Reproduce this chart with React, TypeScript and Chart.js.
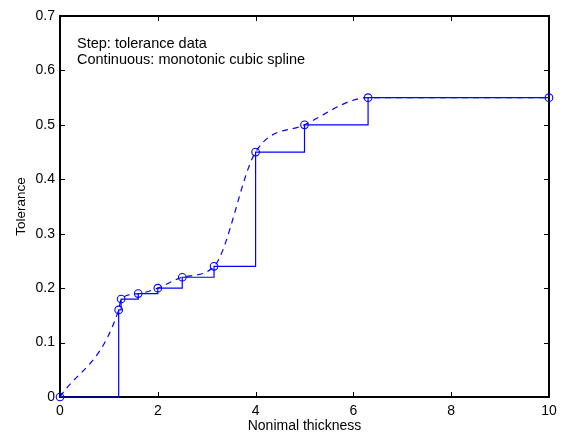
import React, { useEffect, useRef } from "react";
import { Chart, registerables } from "chart.js";

Chart.register(...registerables);

const thickness = [0, 1.2, 1.25, 1.6, 2, 2.5, 3.15, 4, 5, 6.3, 10];
const tolerance = [0, 0.16, 0.18, 0.19, 0.2, 0.22, 0.24, 0.45, 0.5, 0.55, 0.55];
const xTicks = [0, 2, 4, 6, 8, 10];
const yTicks = [0, 0.1, 0.2, 0.3, 0.4, 0.5, 0.6, 0.7];
const noteLines = ["Step: tolerance data", "Continuous: monotonic cubic spline"];
const xTitle = "Nonimal thickness";
const yTitle = "Tolerance";

const FONT = "'Liberation Sans', Arial, sans-serif";
const BLUE = "rgb(0,0,255)";

const boxPlugin = {
  id: "matlabBox",
  beforeDatasetsDraw(chart: any) {
    const { ctx, chartArea: a, scales } = chart;
    ctx.save();
    ctx.strokeStyle = "#000";
    ctx.lineWidth = 1;
    ctx.beginPath();
    const L = 5;
    for (const v of xTicks) {
      const px = Math.round(scales.x.getPixelForValue(v)) + 0.5;
      ctx.moveTo(px, a.bottom);
      ctx.lineTo(px, a.bottom - L);
      ctx.moveTo(px, a.top);
      ctx.lineTo(px, a.top + L);
    }
    for (const v of yTicks) {
      const py = Math.round(scales.y.getPixelForValue(v)) + 0.5;
      ctx.moveTo(a.left, py);
      ctx.lineTo(a.left + L, py);
      ctx.moveTo(a.right, py);
      ctx.lineTo(a.right - L, py);
    }
    ctx.stroke();
    ctx.lineWidth = 2;
    ctx.strokeRect(a.left, a.top, a.right - a.left, a.bottom - a.top);
    ctx.fillStyle = "#000";
    ctx.font = `14.5px ${FONT}`;
    ctx.textBaseline = "alphabetic";
    ctx.textAlign = "left";
    ctx.fillText(noteLines[0], a.left + 17, a.top + 32);
    ctx.fillText(noteLines[1], a.left + 17, a.top + 48);
    ctx.restore();
  },
};

export default function App() {
  const ref = useRef<HTMLCanvasElement>(null);
  useEffect(() => {
    const pts = thickness.map((x, i) => ({ x, y: tolerance[i] }));
    const chart = new Chart(ref.current!, {
      type: "line",
      data: {
        datasets: [
          {
            data: pts,
            borderColor: BLUE,
            borderWidth: 1.2,
            stepped: "before",
            pointStyle: "circle",
            pointRadius: 3.8,
            pointBorderColor: BLUE,
            pointBackgroundColor: "rgba(0,0,0,0)",
            pointBorderWidth: 1.1,
            fill: false,
            clip: false,
          } as any,
          {
            data: pts,
            borderColor: BLUE,
            borderWidth: 1.2,
            borderDash: [6, 5],
            cubicInterpolationMode: "monotone",
            pointRadius: 0,
            fill: false,
            clip: false,
          } as any,
        ],
      },
      plugins: [boxPlugin],
      options: {
        responsive: false,
        animation: false,
        events: [],
        layout: { padding: { top: 16, right: 14, left: 13, bottom: 0 } },
        plugins: { legend: { display: false }, tooltip: { enabled: false } },
        scales: {
          x: {
            type: "linear",
            min: 0,
            max: 10,
            border: { display: false },
            grid: { display: false, drawTicks: false },
            ticks: {
              stepSize: 2,
              color: "#000",
              padding: 6,
              maxRotation: 0,
              font: { family: FONT, size: 14 },
            },
            title: {
              display: true,
              text: xTitle,
              color: "#000",
              padding: { top: 0, bottom: 0 },
              font: { family: FONT, size: 14 },
            },
            afterFit(s: any) {
              s.height = 38;
            },
          },
          y: {
            type: "linear",
            min: 0,
            max: 0.7,
            border: { display: false },
            grid: { display: false, drawTicks: false },
            ticks: {
              stepSize: 0.1,
              color: "#000",
              padding: 5,
              font: { family: FONT, size: 14 },
              callback: (v: any) => String(Math.round(v * 10) / 10),
            },
            title: {
              display: true,
              text: yTitle,
              color: "#000",
              padding: { top: 0, bottom: 6 },
              font: { family: FONT, size: 13.5 },
            },
            afterFit(s: any) {
              s.width = 47;
            },
          },
        },
      } as any,
    });
    return () => chart.destroy();
  }, []);
  return (
    <div style={{ position: "fixed", left: 0, top: 0, width: 563, height: 435, background: "#fff" }}>
      <canvas ref={ref} width={563} height={435} />
    </div>
  );
}
